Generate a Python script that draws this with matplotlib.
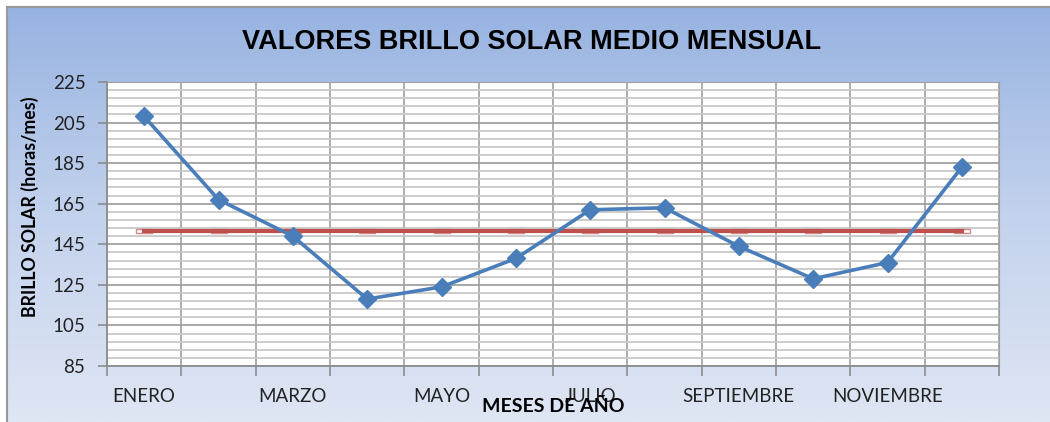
import numpy as np
import matplotlib
matplotlib.use("Agg")
import matplotlib.pyplot as plt
from matplotlib.colors import LinearSegmentedColormap
from matplotlib.path import Path

# datos
meses = ["ENERO", "FEBRERO", "MARZO", "ABRIL", "MAYO", "JUNIO", "JULIO",
         "AGOSTO", "SEPTIEMBRE", "OCTUBRE", "NOVIEMBRE", "DICIEMBRE"]
brillo = [208, 167, 149, 118, 124, 138, 162, 163, 144, 128, 136, 183]
media = [151.7, 151.7, 151.7, 151.7, 151.7, 151.7, 151.7, 151.7, 151.7, 151.7, 151.7, 151.7]
yticks = [85, 105, 125, 145, 165, 185, 205, 225]

fig = plt.figure(figsize=(10.5, 4.22), dpi=100)

# fondo degradado del area del grafico
bg = fig.add_axes([7 / 1050, 0, 1 - 7 / 1050, 1 - 7 / 422])
cmap = LinearSegmentedColormap.from_list("bg", ["#97b3e1", "#c3d2ed", "#dfe6f4"])
grad = np.linspace(0, 1, 256).reshape(-1, 1)
bg.imshow(grad, aspect="auto", cmap=cmap, extent=[0, 1, 0, 1], origin="upper")
bg.set_xlim(0, 1)
bg.set_ylim(0, 1)
bg.set_xticks([])
bg.set_yticks([])
for s in ["right", "bottom"]:
    bg.spines[s].set_visible(False)
for s in ["top", "left"]:
    bg.spines[s].set_color("#9a9a9a")
    bg.spines[s].set_linewidth(1.5)

ax = fig.add_axes([107 / 1050, 1 - 366 / 422, (999 - 107) / 1050, (366 - 82) / 422])
ax.set_facecolor("white")
x = np.arange(len(meses))

ax.set_xlim(-0.5, len(meses) - 0.5)
ax.set_ylim(85, 225)

# rejilla
ax.set_yticks(yticks)
ax.set_yticks(np.arange(85, 226, 4), minor=True)
ax.grid(True, which="minor", axis="y", color="#c8c8c8", linewidth=1.3)
ax.grid(True, which="major", axis="y", color="#a0a0a0", linewidth=1.3)
for b in np.arange(-0.5, len(meses), 1.0):
    ax.axvline(b, color="#a0a0a0", linewidth=1.2, zorder=0.5)
ax.set_axisbelow(True)

ax.set_xticks(np.arange(-0.5, len(meses), 1.0))
ax.set_xticklabels([])
ax.tick_params(axis="x", which="major", length=7, color="#8c8c8c", width=1.2)
ax.set_xticks(x[::2], minor=True)
ax.set_xticklabels(meses[::2], minor=True, fontsize=13.5, family="Lato", color="#222222")
ax.tick_params(axis="x", which="minor", length=0, pad=16)
ax.tick_params(axis="y", which="major", length=6.5, color="#8c8c8c", width=1.2,
               labelsize=13.5, labelcolor="#222222", pad=9)
ax.tick_params(axis="y", which="minor", length=0)
for lab in ax.get_yticklabels():
    lab.set_family("Lato")

for s in ["top", "right"]:
    ax.spines[s].set_color("#a0a0a0")
for s in ["left", "bottom"]:
    ax.spines[s].set_color("#8c8c8c")
    ax.spines[s].set_linewidth(1.3)

# serie de la media: marcadores debajo de la linea
rect = Path([(-4, -1), (4, -1), (4, 1), (-4, 1), (-4, -1)])
ax.plot(x, media, linestyle="none", marker=rect, markersize=12,
        markerfacecolor="white", markeredgecolor="#d08a88", markeredgewidth=1.0, zorder=3)
ax.plot(x, media, color="#c0504d", linewidth=3, zorder=3.1)

# serie principal
ax.plot(x, brillo, color="#4a7ebb", linewidth=2.6, marker="D", markersize=9,
        markerfacecolor="#4a7ebb", markeredgecolor="#4a7ebb", zorder=4)

fig.text(532 / 1050, 1 - 42 / 422, "VALORES BRILLO SOLAR MEDIO MENSUAL",
         ha="center", va="center", fontsize=19.5, fontweight="bold",
         family="Liberation Sans", color="black")
fig.text(553 / 1050, 1 - 407 / 422, "MESES DE AÑO", ha="center", va="center",
         fontsize=14, fontweight="bold", family="Lato", color="black")
fig.text(30 / 1050, 1 - 207 / 422, "BRILLO SOLAR (horas/mes)", ha="center", va="center",
         rotation=90, fontsize=12.8, fontweight="bold", family="Lato", color="black")

fig.savefig("out.png", dpi=100)
